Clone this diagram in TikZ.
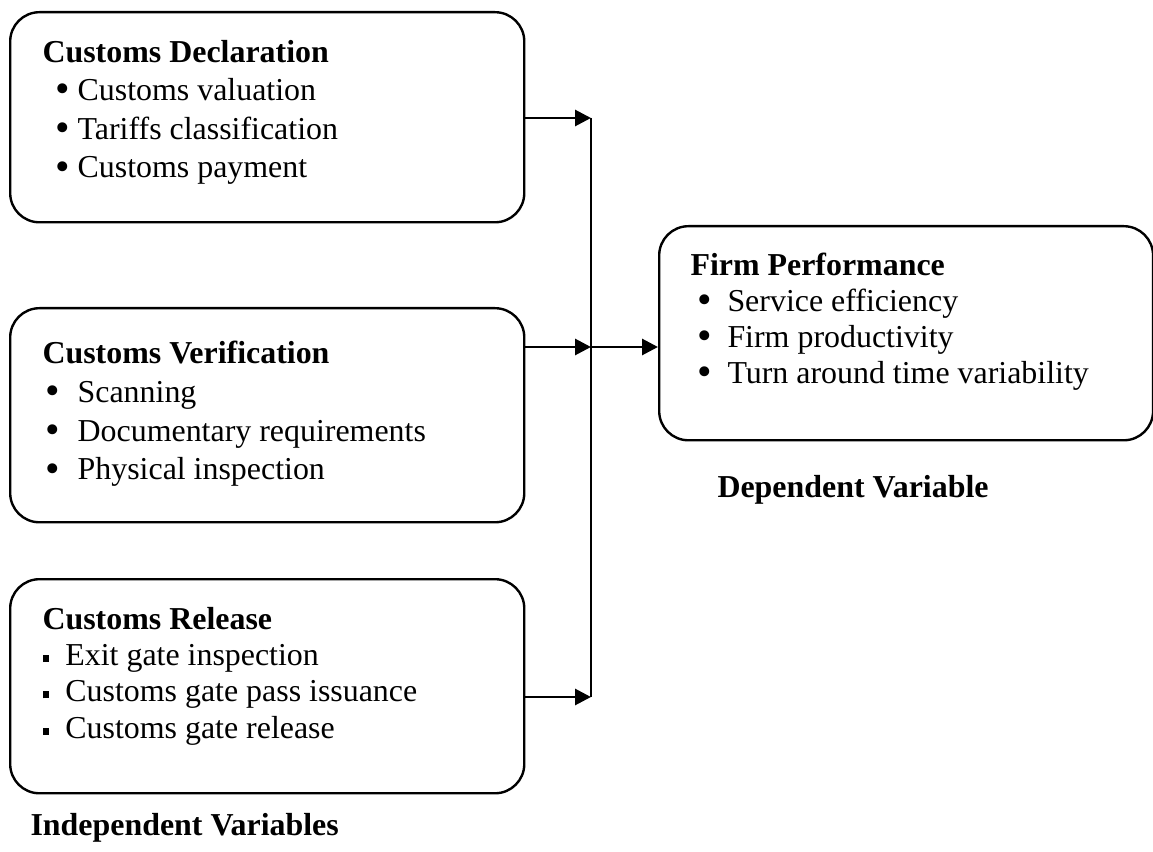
\documentclass[tikz,border=0pt]{standalone}
\usepackage{graphicx}
\usepackage{fontspec}
\setmainfont{Liberation Serif}
\usetikzlibrary{arrows.meta,positioning}

% list lines: round bullet (offset, text start) and square bullet
\newcommand{\bigdot}{\smash{\raisebox{-0.8pt}{\scalebox{1.3}{\textbullet}}}}
\newcommand{\dotline}[3]{\makebox[#2][l]{\hspace*{#1}\bigdot}#3}
\newcommand{\sqline}[1]{\makebox[8.6pt][l]{\raisebox{1.3pt}{\rule{2.6pt}{2.6pt}}}#1}

\begin{document}
\begin{tikzpicture}[x=0.376pt,y=-0.376pt,
    box/.style={draw,line width=0.9pt,rounded corners=11pt,anchor=north west,
                minimum width=193.3pt,minimum height=80.5pt,inner sep=0pt},
    % base of a list node = baseline of its last line
    txt/.style={anchor=base west,align=left,inner sep=0pt,
                font=\fontsize{12}{#1}\selectfont},
    head/.style={anchor=base west,inner sep=0pt,font=\fontsize{12}{14}\selectfont\bfseries},
    >={Triangle[length=6pt,width=6pt]},
    link/.style={->,line width=1.1pt}]

  \useasboundingbox (0,0) rectangle (1153,852);

  % the four boxes
  \node[box,minimum height=79pt] (decl)  at (9,11)   {};
  \node[box]                     (verif) at (9,307)  {};
  \node[box]                     (rel)   at (9,578)  {};
  \node[box,minimum width=185.7pt] (perf) at (658,225) {};

  \node[txt=14.5pt] (decltxt) at (42,178)
    {\textbf{Customs Declaration}\\
     \dotline{5pt}{13.2pt}{Customs valuation}\\
     \dotline{5pt}{13.2pt}{Tariffs classification}\\
     \dotline{5pt}{13.2pt}{Customs payment}};
  \node[txt=14.6pt] (veriftxt) at (42,480)
    {\textbf{Customs Verification}\\
     \dotline{1.2pt}{13.2pt}{Scanning}\\
     \dotline{1.2pt}{13.2pt}{Documentary requirements}\\
     \dotline{1.2pt}{13.2pt}{Physical inspection}};
  \node[txt=13.6pt] (reltxt) at (42,738)
    {\textbf{Customs Release}\\
     \sqline{Exit gate inspection}\\
     \sqline{Customs gate pass issuance}\\
     \sqline{Customs gate release}};
  \node[txt=13.5pt] (perftxt) at (690,383)
    {\textbf{Firm Performance}\\
     \dotline{2.7pt}{13.9pt}{Service efficiency}\\
     \dotline{2.7pt}{13.9pt}{Firm productivity}\\
     \dotline{2.7pt}{13.9pt}{Turn around time variability}};

  % joints on the collecting line
  \coordinate (j1) at (591,118);
  \coordinate (j2) at (591,347);
  \coordinate (j3) at (591,697);

  \draw[line width=1.1pt] (j1) -- (j3);
  \draw[link] (decl.east |- j1) -- (j1);
  \draw[link] (verif.east |- j2) -- (j2);
  \draw[link] (rel.east |- j3) -- (j3);
  \draw[link] (j2) -- (perf.west |- j2);

  \node[head] (indep) at (30,835)  {Independent Variables};
  \node[head] (dep)   at (717,498) {Dependent Variable};
\end{tikzpicture}
\end{document}
